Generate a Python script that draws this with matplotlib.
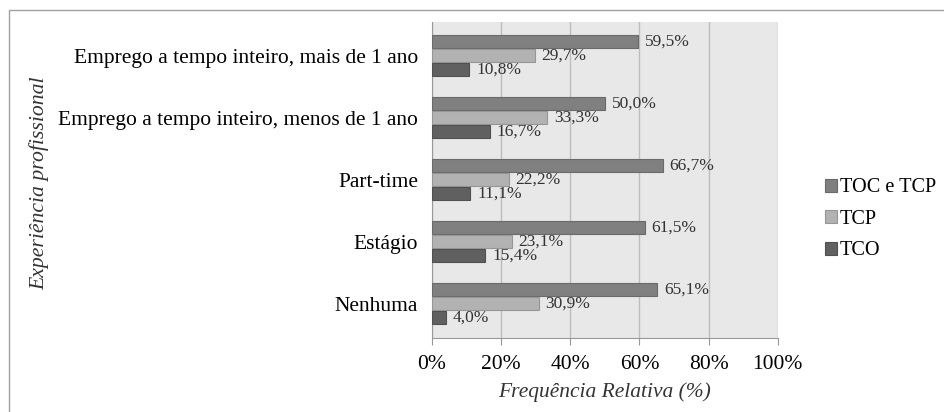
import matplotlib
matplotlib.use("Agg")
from matplotlib import pyplot as plt
from matplotlib.patches import Rectangle
import numpy as np

categories = [
    "Emprego a tempo inteiro, mais de 1 ano",
    "Emprego a tempo inteiro, menos de 1 ano",
    "Part-time",
    "Estágio",
    "Nenhuma",
]
series_names = ["TOC e TCP", "TCP", "TCO"]
toc_tcp = [59.5, 50.0, 66.7, 61.5, 65.1]
tcp = [29.7, 33.3, 22.2, 23.1, 30.9]
tco = [10.8, 16.7, 11.1, 15.4, 4.0]
xticks = [0, 20, 40, 60, 80, 100]

plt.rcParams["font.family"] = ["Liberation Serif", "DejaVu Serif"]

fig = plt.figure(figsize=(9.45, 4.12), dpi=100)
ax = fig.add_axes([0.457, 0.180, 0.366, 0.767])
ax.set_facecolor("#e8e8e8")

colors = ["#808080", "#b2b2b2", "#606060"]
edges = ["#6a6a6a", "#969696", "#505050"]
offsets = [-0.226, 0.0, 0.226]
ypos = np.arange(len(categories))

for vals, name, c, ec, off in zip([toc_tcp, tcp, tco], series_names, colors, edges, offsets):
    bars = ax.barh(ypos + off, vals, height=0.21, color=c, edgecolor=ec,
                   linewidth=0.8, label=name, zorder=3)
    for b, v in zip(bars, vals):
        ax.annotate(f"{v:.1f}%".replace(".", ","),
                    (b.get_width(), b.get_y() + b.get_height() / 2),
                    xytext=(5, 0), textcoords="offset points",
                    va="center", ha="left", fontsize=12.5, color="#333333",
                    zorder=4)

ax.set_xlim(0, 100)
ax.set_ylim(len(categories) - 0.45, -0.55)
ax.set_xticks(xticks)
ax.set_xticklabels([f"{t}%" for t in xticks], fontsize=15.5)
ax.set_yticks(ypos)
ax.set_yticklabels(categories, fontsize=15.5)
ax.tick_params(axis="y", length=0, pad=10)
ax.tick_params(axis="x", length=5, color="#999999", pad=7, direction="out")
ax.grid(axis="x", color="#bdbdbd", linewidth=1.0, zorder=0)
for s in ["top", "right"]:
    ax.spines[s].set_visible(False)
for s in ["left", "bottom"]:
    ax.spines[s].set_color("#999999")

ax.set_xlabel("Frequência Relativa (%)", fontsize=15.5, style="italic",
              color="#333333", labelpad=6)
fig.text(0.042, 0.555, "Experiência profissional", rotation=90, fontsize=15.7,
         style="italic", ha="center", va="center", color="#333333")

leg = ax.legend(loc="center left", bbox_to_anchor=(1.112, 0.375), frameon=False,
                fontsize=14.6, handlelength=0.6, handleheight=0.6,
                handletextpad=0.15, labelspacing=0.62, borderaxespad=0)

fig.patches.append(Rectangle((0.0095, -0.05), 1.1, 1.025, transform=fig.transFigure,
                             fill=False, edgecolor="#a0a0a0", linewidth=1.0))

fig.savefig("out.png", dpi=100)
